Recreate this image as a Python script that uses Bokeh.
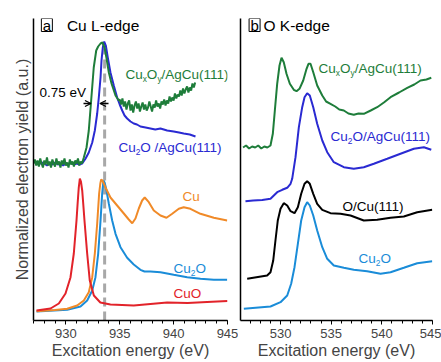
from bokeh.plotting import figure
from bokeh.layouts import row
from bokeh.models import Range1d, SingleIntervalTicker, FixedTicker, Arrow, OpenHead
from bokeh.core.properties import value
from bokeh.embed import file_html
from bokeh.resources import INLINE

FONT = "Liberation Sans"

GREEN = "#1e7d3a"
BLUE = "#2a2ad2"
LBLUE = "#1a8cd8"
ORANGE = "#f08a28"
RED = "#e2232a"
GRAY = "#a8a8a8"

# ---------------- Panel a: Cu L-edge ----------------
a_cuxoy_E = [927.0, 927.125, 927.25, 927.375, 927.5, 927.625, 927.75, 927.875, 928.0, 928.125,
             928.25, 928.375, 928.5, 928.625, 928.75, 928.875, 929.0, 929.125, 929.25, 929.375,
             929.5, 929.625, 929.75, 929.875, 930.0, 930.125, 930.25, 930.375, 930.5, 930.625,
             930.75, 930.875, 931.0, 931.125, 931.25, 931.375, 931.5,
             931.67, 931.92, 932.13, 932.35, 932.59, 932.82, 933.0, 933.22, 933.4, 933.59,
             933.78, 933.99, 934.24, 934.61, 934.91,
             935.0, 935.125, 935.25, 935.375, 935.5, 935.625, 935.75, 935.875, 936.0, 936.125,
             936.25, 936.375, 936.5, 936.625, 936.75, 936.875, 937.0, 937.125, 937.25, 937.375,
             937.5, 937.625, 937.75, 937.875, 938.0, 938.125, 938.25, 938.375, 938.5, 938.625,
             938.75, 938.875, 939.0, 939.125, 939.25, 939.375, 939.5, 939.625, 939.75, 939.875,
             940.0, 940.125, 940.25, 940.375, 940.5, 940.625, 940.75, 940.875, 941.0, 941.125,
             941.25, 941.375, 941.5, 941.625, 941.75, 941.875, 942.0]
a_cuxoy_I = [157, 161, 155, 160, 154, 162, 157, 153, 160, 156,
             163, 155, 159, 153, 161, 157, 154, 162, 156, 159,
             153, 160, 156, 162, 155, 158, 153, 161, 156, 159,
             154, 160, 157, 162, 155, 159, 157,
             163, 173, 190, 220, 253, 270, 274, 277, 278, 273,
             262, 248, 237, 225, 220,
             221, 216, 222, 214, 219, 211, 217, 220, 210, 216,
             208, 215, 219, 212, 217, 209, 214, 218, 211, 216,
             210, 213, 219, 214, 209, 216, 213, 220, 214, 217,
             212, 219, 216, 221, 215, 220, 217, 224, 219, 223,
             220, 227, 222, 226, 224, 230, 225, 232, 227, 231,
             234, 228, 233, 230, 237, 233, 238]

a_cu2o_ag_E = [927.25, 927.5, 927.75, 928.0, 928.25, 928.5, 928.75, 929.0, 929.25, 929.5,
               929.75, 930.0, 930.25, 930.5, 930.75, 931.0, 931.25, 931.52,
               931.82, 932.13, 932.45, 932.69, 932.91, 933.06, 933.22, 933.31, 933.43, 933.56,
               933.71, 933.89, 934.14, 934.45, 934.76, 935.0, 935.23, 935.45, 935.69, 936.0,
               936.3, 936.6, 936.92, 937.4, 937.85, 938.3, 938.78, 939.4, 940.01, 940.5,
               940.94, 941.5, 942.03]
a_cu2o_ag_I = [157, 156, 158, 157, 155, 157, 156, 158, 156, 157,
               155, 157, 156, 158, 156, 157, 156, 157,
               161.7, 168, 178, 190, 207, 223, 243, 260, 273, 279,
               275, 263, 248, 235, 223, 216, 210, 205, 202, 199,
               197, 196, 194, 193, 192, 191, 192, 190, 189, 188,
               187, 186, 184]

a_cu_E = [927.28, 929.0, 930.13, 931.05, 931.67, 932.13, 932.45, 932.69, 932.91, 933.09,
          933.2, 933.28, 933.4, 933.68, 934.14, 934.76, 935.38, 935.84, 936.16, 936.46,
          936.77, 937.08, 937.32, 937.7, 938.16, 938.78, 939.34, 939.87, 940.48, 940.94,
          941.56, 942.49, 943.73, 944.97]
a_cu_I = [9.3, 10.5, 11.7, 15, 20, 28.3, 43.3, 67, 97, 127,
          137, 141, 140, 133, 123, 115, 107, 101, 97.3, 102,
          112, 120, 123, 118.3, 110, 105, 102.7, 106.7, 111.7, 113.3,
          111.7, 106.7, 102.7, 100]

a_cu2o_E = [927.28, 930.13, 931.36, 931.98, 932.45, 932.75, 933.0, 933.22, 933.37, 933.49,
            933.6, 933.77, 933.99, 934.3, 934.61, 935.07, 935.69, 936.3, 936.92, 937.3,
            937.85, 938.78, 940.01, 941.26, 942.49, 943.73, 944.97]
a_cu2o_I = [9, 10.7, 14, 20, 30, 43.3, 66.7, 100, 126.7, 140,
            138, 130, 116.7, 100, 86.7, 73.3, 62.7, 56, 50.7, 49,
            49, 48.3, 45.7, 43.3, 41.7, 40.7, 40.7]

a_cuo_E = [927.28, 928.58, 929.35, 929.97, 930.43, 930.74, 930.99, 931.1, 931.2, 931.3,
           931.4, 931.52, 931.62, 931.73, 931.98, 932.22, 932.6, 933.2, 934.14, 936.3,
           939.4, 941.3, 943.1, 945.0]
a_cuo_I = [10, 12, 17, 27, 43, 67, 100, 118, 133, 142,
           139, 130, 116, 100, 67, 40, 25, 18, 16, 15,
           18, 17.5, 18.5, 19.5]

a_ref_energy = 933.6          # dashed reference line
a_ref_top = 272
a_shift_label = "0.75 eV"
a_arrow_left = (931.64, 932.33)
a_arrow_right = (933.96, 933.17)
a_arrow_level = 217

# ---------------- Panel b: O K-edge ----------------
b_cuxoy_E = [526.3, 526.6, 526.9, 527.2, 527.5, 527.8, 528.1, 528.4, 528.7,
             529.01, 529.24, 529.44, 529.67, 529.9, 530.1,
             530.32, 530.59, 530.92, 531.31, 531.58, 531.87, 532.24, 532.57, 532.76, 532.96,
             533.23, 533.62, 534.12, 534.5, 534.93, 535.4, 535.8, 536.25, 536.7, 537.23,
             537.7, 538.22, 538.9, 539.54, 540.2, 540.86, 541.7, 542.51, 543.2, 543.82,
             544.4, 544.88]
b_cuxoy_I = [173, 175, 172, 174, 173, 175, 172, 174, 173,
             175, 186.7, 210, 236.7, 255, 262.7,
             258.3, 246.7, 236.7, 230.7, 229.3, 231.7, 240, 251.7, 256.7, 256.7,
             248.3, 235, 225, 219, 216.7, 214, 211, 210, 207, 205.7,
             207, 206.7, 210, 213.3, 218, 223.3, 228, 232.7, 236, 240,
             241, 242.7]

b_cu2o_ag_E = [526.54, 527.3, 528.2, 529.01, 529.34, 529.67, 530.17, 530.66, 530.99, 531.15,
               531.48, 531.81, 532.14, 532.37, 532.63, 532.89, 533.23, 533.62, 534.12, 534.61,
               535.26, 536.25, 537.23, 538.22, 539.21, 540.53, 541.84, 543.16, 544.15, 544.88]
b_cu2o_ag_I = [119.3, 120, 120.5, 121.7, 125, 128.3, 130.7, 132.7, 136.7, 141.7,
               163.3, 193.3, 213.3, 223.3, 227.3, 225, 213.3, 196.7, 180, 168.3,
               158.3, 153.3, 151.7, 153.3, 156.7, 161.7, 166.7, 171.7, 173.3, 170.7]

b_ocu_E = [526.71, 528.68, 529.01, 529.28, 529.5, 529.73, 530.0, 530.32, 530.66, 530.99,
           531.38, 531.71, 532.04, 532.37, 532.63, 532.89, 533.23, 533.62, 534.12, 534.93,
           535.92, 536.91, 538.22, 539.54, 540.86, 542.17, 543.49, 544.97]
b_ocu_I = [41.7, 45, 48.3, 60, 80, 100, 111.7, 117.3, 115, 109.3,
           107.3, 113.3, 126.7, 136.7, 139.3, 136.7, 126.7, 116.7, 110.7, 107.3,
           106.7, 105, 100, 100.7, 102.7, 104, 108.3, 110.7]

b_cu2o_E = [526.38, 529.01, 530.0, 530.66, 531.05, 531.38, 531.71, 532.04, 532.37, 532.63,
            532.89, 533.23, 533.62, 534.12, 534.61, 535.26, 536.25, 537.23, 538.55, 539.87,
            540.86, 542.17, 543.49, 544.97]
b_cu2o_I = [11.7, 14, 18.3, 25, 36.7, 53.3, 76.7, 100, 113.3, 118.3,
            115, 105, 90, 73.3, 61.7, 55, 52.7, 50.7, 49.3, 46.7,
            48.3, 52.7, 57.3, 59.3]

# approximate Arial/Liberation advance widths (em) for label layout
W = {'C': .722, 'u': .556, 'x': .5, 'O': .778, 'y': .5, '/': .278, 'A': .667, 'g': .556,
     '(': .333, ')': .333, '1': .556, '2': .556, ' ': .278}


def rich_label(p, x, y, parts, color, size=13.5):
    off = 0.0
    for s, sub in parts:
        fs = size * 0.62 if sub else size
        p.text(x=[x], y=[y], text=[s], x_offset=off, y_offset=(4 if sub else 0),
               text_font_size=f"{fs:.1f}px", text_color=color, text_baseline="middle",
               text_align="left", text_font=value(FONT))
        off += sum(W.get(c, .556) for c in s) * fs


def style(p, ylabel=None):
    p.outline_line_color = None
    p.xgrid.grid_line_color = None
    p.ygrid.grid_line_color = None
    p.background_fill_color = "white"
    p.border_fill_color = "white"
    xa = p.xaxis[0]
    xa.ticker = SingleIntervalTicker(interval=5, num_minor_ticks=5)
    xa.axis_label = "Excitation energy (eV)"
    xa.axis_label_text_font = FONT
    xa.axis_label_text_font_size = "16px"
    xa.axis_label_text_font_style = "normal"
    xa.major_label_text_font = FONT
    xa.major_label_text_font_size = "13px"
    xa.major_tick_out = 4
    xa.major_tick_in = 0
    xa.minor_tick_out = 3
    xa.minor_tick_in = 0
    xa.axis_line_width = 1.5
    xa.major_label_standoff = 4
    xa.axis_label_standoff = 1
    ya = p.yaxis[0]
    ya.ticker = FixedTicker(ticks=[])
    ya.minor_tick_line_color = None
    ya.major_tick_line_color = None
    ya.axis_line_width = 1.5
    if ylabel:
        ya.axis_label = ylabel
        ya.axis_label_text_font = FONT
        ya.axis_label_text_font_size = "16px"
        ya.axis_label_text_font_style = "normal"
        ya.axis_label_standoff = 3


pa = figure(width=238, height=362, x_range=Range1d(927, 945), y_range=Range1d(0, 302),
            output_backend="svg", toolbar_location=None,
            min_border_left=33, min_border_right=11, min_border_top=18, min_border_bottom=42)
style(pa, "Normalized electron yield (a.u.)")

pa.line([a_ref_energy, a_ref_energy], [0, a_ref_top], line_color=GRAY, line_width=3, line_dash="9 5")
pa.line(a_cu2o_E, a_cu2o_I, line_color=LBLUE, line_width=2)
pa.line(a_cu_E, a_cu_I, line_color=ORANGE, line_width=2)
pa.line(a_cuo_E, a_cuo_I, line_color=RED, line_width=2)
pa.line(a_cu2o_ag_E, a_cu2o_ag_I, line_color=BLUE, line_width=2)
pa.line(a_cuxoy_E, a_cuxoy_I, line_color=GREEN, line_width=2)

for xs, xe in (a_arrow_left, a_arrow_right):
    pa.add_layout(Arrow(end=OpenHead(size=6, line_width=1.3), x_start=xs, y_start=a_arrow_level,
                        x_end=xe, y_end=a_arrow_level, line_width=1.3, line_color="black"))
pa.text(x=[927.56], y=[228], text=[a_shift_label], text_font_size="13.5px", text_baseline="middle",
        text_font=value(FONT), text_color="black")

rich_label(pa, 935.53, 246, [("Cu", False), ("x", True), ("O", False), ("y", True), ("/AgCu(111)", False)], GREEN)
rich_label(pa, 934.88, 173, [("Cu", False), ("2", True), ("O /AgCu(111)", False)], BLUE)
rich_label(pa, 940.82, 124, [("Cu", False)], ORANGE)
rich_label(pa, 939.99, 52, [("Cu", False), ("2", True), ("O", False)], LBLUE)
rich_label(pa, 939.99, 27, [("CuO", False)], RED)

pa.rect(x=[928.24], y=[295.5], width=11, height=13, width_units="screen", height_units="screen",
        fill_color=None, line_color="black", line_width=1)
pa.text(x=[928.24], y=[295.5], text=["a"], text_align="center", text_baseline="middle",
        text_font_size="15px", text_font=value(FONT), text_color="black")
pa.text(x=[930.1], y=[295.5], text=["Cu L-edge"], text_baseline="middle",
        text_font_size="15.5px", text_font=value(FONT), text_color="black")

pb = figure(width=203, height=362, x_range=Range1d(526.05, 545), y_range=Range1d(0, 302),
            output_backend="svg", toolbar_location=None,
            min_border_left=2, min_border_right=9, min_border_top=18, min_border_bottom=42)
style(pb)

pb.line(b_cu2o_E, b_cu2o_I, line_color=LBLUE, line_width=2)
pb.line(b_ocu_E, b_ocu_I, line_color="black", line_width=2)
pb.line(b_cu2o_ag_E, b_cu2o_ag_I, line_color=BLUE, line_width=2)
pb.line(b_cuxoy_E, b_cuxoy_I, line_color=GREEN, line_width=2)

rich_label(pb, 533.75, 252, [("Cu", False), ("x", True), ("O", False), ("y", True), ("/AgCu(111)", False)], GREEN)
rich_label(pb, 534.93, 184, [("Cu", False), ("2", True), ("O/AgCu(111)", False)], BLUE)
rich_label(pb, 536.12, 114, [("O/Cu(111)", False)], "black")
rich_label(pb, 537.7, 62, [("Cu", False), ("2", True), ("O", False)], LBLUE)

pb.rect(x=[527.44], y=[295.5], width=11, height=13, width_units="screen", height_units="screen",
        fill_color=None, line_color="black", line_width=1)
pb.text(x=[527.44], y=[295.5], text=["b"], text_align="center", text_baseline="middle",
        text_font_size="15px", text_font=value(FONT), text_color="black")
pb.text(x=[528.32], y=[295.5], text=["O K-edge"], text_baseline="middle",
        text_font_size="15.5px", text_font=value(FONT), text_color="black")

layout = row(pa, pb)
open("out.html", "w").write(file_html(layout, INLINE))
